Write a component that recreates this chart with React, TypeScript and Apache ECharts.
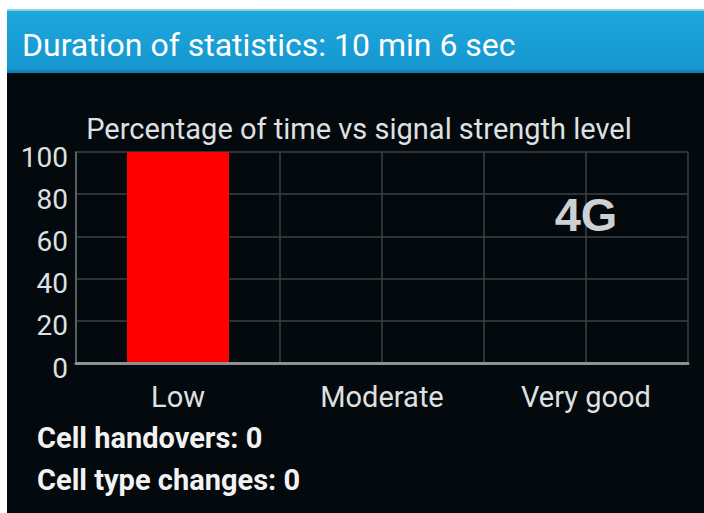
import React, { useEffect, useRef } from "react";
import * as echarts from "echarts";

const categories = ["Low", "Moderate", "Very good"];
const percentValues = [100, 0, 0];
const yTicks = [0, 20, 40, 60, 80, 100];
const headerText = "Duration of statistics: 10 min 6 sec";
const chartTitle = "Percentage of time vs signal strength level";
const networkLabel = "4G";
const statLines = ["Cell handovers: 0", "Cell type changes: 0"];

export default function App() {
  const ref = useRef<HTMLDivElement>(null);
  useEffect(() => {
    if (!ref.current) return;
    const chart = echarts.init(ref.current, null, { renderer: "svg" });
    chart.setOption({
      animation: false,
      backgroundColor: "#03090c",
      title: {
        text: chartTitle,
        left: 354,
        textAlign: "center",
        top: 109,
        textStyle: { color: "#dfe0e1", fontSize: 29, fontWeight: "normal", fontFamily: "Roboto" },
      },
      grid: { left: 76, right: 16, top: 152, bottom: 150 },
      xAxis: [
        {
          type: "category",
          data: categories,
          boundaryGap: true,
          axisLine: { show: true, lineStyle: { color: "#8c9194", width: 3 } },
          axisTick: { show: false },
          splitLine: { show: false },
          axisLabel: { color: "#dfe0e1", fontSize: 29, fontFamily: "Roboto", margin: 19 },
          z: 5,
        },
        {
          type: "value",
          min: 0,
          max: 6,
          interval: 1,
          position: "bottom",
          axisLine: { show: false },
          axisTick: { show: false },
          axisLabel: { show: false },
          splitLine: { show: true, lineStyle: { color: "#3b4043", width: 1.5 } },
        },
      ],
      yAxis: {
        type: "value",
        min: yTicks[0],
        max: yTicks[yTicks.length - 1],
        interval: 20,
        axisLine: { show: true, lineStyle: { color: "#6a6f72", width: 1.5 } },
        axisTick: { show: false },
        splitLine: { show: true, lineStyle: { color: "#3b4043", width: 1.5 } },
        axisLabel: {
          color: "#dfe0e1",
          fontSize: 28,
          fontFamily: "Roboto",
          margin: 8,
          verticalAlign: "top",
          lineHeight: 10,
        },
      },
      series: [
        {
          type: "bar",
          xAxisIndex: 0,
          data: percentValues,
          barWidth: "50%",
          itemStyle: { color: "#ff0000" },
        },
      ],
      graphic: [
        { type: "rect", shape: { x: 0, y: 0, width: 704, height: 10 }, style: { fill: "#ffffff" } },
        { type: "rect", shape: { x: 0, y: 0, width: 7, height: 513 }, style: { fill: "#ffffff" } },
        { type: "rect", shape: { x: 7, y: 9, width: 697, height: 2 }, style: { fill: "#8fcfe8" } },
        {
          type: "rect",
          shape: { x: 7, y: 11, width: 697, height: 59 },
          style: {
            fill: new echarts.graphic.LinearGradient(0, 0, 0, 1, [
              { offset: 0, color: "#1da8de" },
              { offset: 1, color: "#1696cf" },
            ]),
          },
        },
        { type: "rect", shape: { x: 7, y: 70, width: 697, height: 3 }, style: { fill: "#1180b6" } },
        {
          type: "text",
          x: 22,
          y: 45,
          style: {
            text: headerText,
            fill: "#ffffff",
            fontSize: 32,
            fontFamily: "Roboto",
            verticalAlign: "middle",
          },
        },
        {
          type: "text",
          x: 586,
          y: 214,
          style: {
            text: networkLabel,
            fill: "#cfd0d1",
            fontSize: 47,
            fontWeight: "bold",
            fontFamily: "Liberation Sans",
            align: "center",
            verticalAlign: "middle",
          },
          z: 10,
        },
        ...statLines.map((t, i) => ({
          type: "text",
          x: 37,
          y: 438 + i * 42,
          style: {
            text: t,
            fill: "#f2f2f2",
            fontSize: 29,
            fontWeight: "bold",
            fontFamily: "Roboto",
            verticalAlign: "middle",
          },
        })),
      ],
    });
    return () => chart.dispose();
  }, []);
  return (
    <div
      ref={ref}
      style={{ position: "fixed", left: 0, top: 0, width: 704, height: 513, background: "#ffffff" }}
    />
  );
}
